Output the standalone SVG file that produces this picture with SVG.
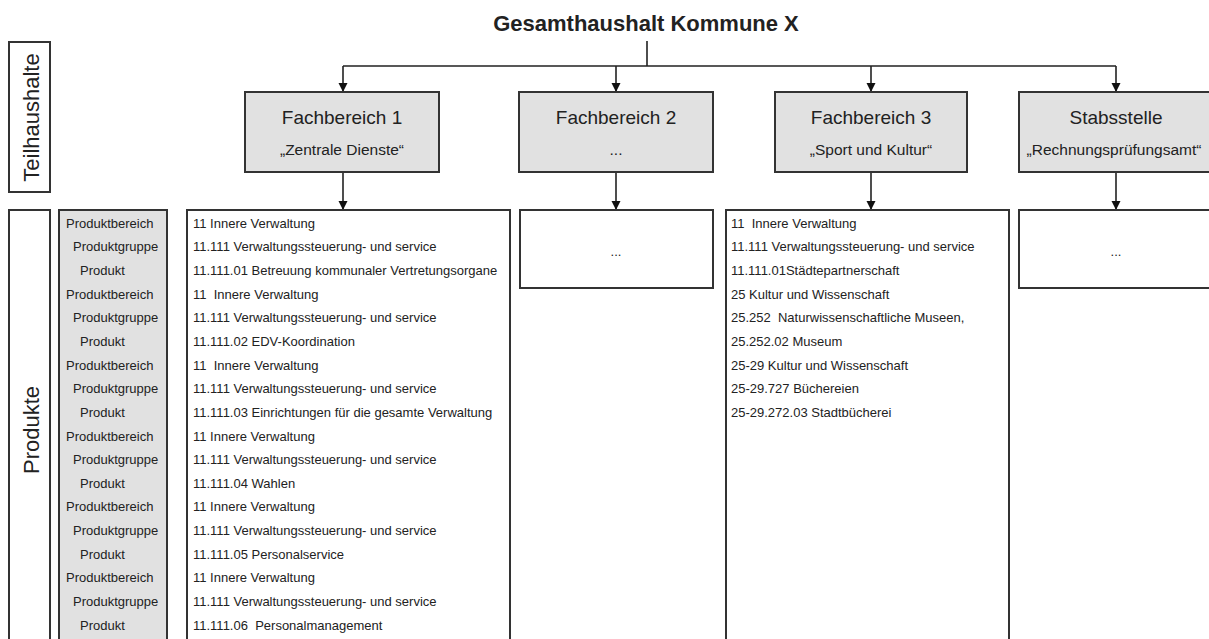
<svg xmlns="http://www.w3.org/2000/svg" width="1209" height="639" viewBox="0 0 1209 639">
<style>
.box{fill:#e1e1e1;stroke:#333;stroke-width:2}
.wbox{fill:#fff;stroke:#333;stroke-width:2}
.t{font-family:"Liberation Sans",Arial,sans-serif;fill:#222}
.title{font-size:22px;font-weight:bold;text-anchor:middle}
.h{font-size:19px;text-anchor:middle}
.s{font-size:15.5px;text-anchor:middle}
.r{font-size:13px;white-space:pre}
.side{font-size:22px;text-anchor:middle}
.con{fill:none;stroke:#222;stroke-width:1.6}
</style>
<defs>
<marker id="arr" markerUnits="userSpaceOnUse" markerWidth="10" markerHeight="10" viewBox="0 0 10 10" refX="9" refY="5" orient="auto">
<path d="M0,0.5 L9,5 L0,9.5 Z" fill="#111"/>
</marker>
</defs>
<rect width="1209" height="639" fill="#fff"/>

<g id="title"><text class="t title" x="646" y="31">Gesamthaushalt Kommune X</text></g>

<g id="connectors">
<path class="con" d="M647,41 V66 M343,66 H1116"/>
<path class="con" d="M343,66 V92" marker-end="url(#arr)"/>
<path class="con" d="M616,66 V92" marker-end="url(#arr)"/>
<path class="con" d="M871,66 V92" marker-end="url(#arr)"/>
<path class="con" d="M1116,66 V92" marker-end="url(#arr)"/>
<path class="con" d="M343,172 V210" marker-end="url(#arr)"/>
<path class="con" d="M616,172 V210" marker-end="url(#arr)"/>
<path class="con" d="M871,172 V210" marker-end="url(#arr)"/>
<path class="con" d="M1116,172 V210" marker-end="url(#arr)"/>
</g>

<g id="teilhaushalte">
<rect class="wbox" x="9" y="42" width="41" height="150"/>
<text class="t side" transform="translate(38.5,117.5) rotate(-90)">Teilhaushalte</text>
</g>

<g id="produkte">
<rect class="wbox" x="9" y="210" width="41" height="450"/>
<text class="t side" transform="translate(38.5,430) rotate(-90)">Produkte</text>
</g>

<g id="fb1">
<rect class="box" x="245" y="92" width="194" height="80"/>
<text class="t h" x="342" y="124">Fachbereich 1</text>
<text class="t s" x="342" y="155">„Zentrale Dienste“</text>
</g>
<g id="fb2">
<rect class="box" x="519" y="92" width="194" height="80"/>
<text class="t h" x="616" y="124">Fachbereich 2</text>
<text class="t s" x="616" y="155">...</text>
</g>
<g id="fb3">
<rect class="box" x="775" y="92" width="192" height="80"/>
<text class="t h" x="871" y="124">Fachbereich 3</text>
<text class="t s" x="871" y="155">„Sport und Kultur“</text>
</g>
<g id="stab">
<rect class="box" x="1019" y="92" width="196" height="80"/>
<text class="t h" x="1116" y="124">Stabsstelle</text>
<text class="t s" x="1114" y="155">„Rechnungsprüfungsamt“</text>
</g>

<g id="labels">
<rect class="box" x="59" y="210" width="108" height="450"/>
<text class="t r" x="66" y="227.7">Produktbereich</text>
<text class="t r" x="73" y="251.3">Produktgruppe</text>
<text class="t r" x="80" y="275">Produkt</text>
<text class="t r" x="66" y="298.6">Produktbereich</text>
<text class="t r" x="73" y="322.3">Produktgruppe</text>
<text class="t r" x="80" y="345.9">Produkt</text>
<text class="t r" x="66" y="369.5">Produktbereich</text>
<text class="t r" x="73" y="393.2">Produktgruppe</text>
<text class="t r" x="80" y="416.8">Produkt</text>
<text class="t r" x="66" y="440.5">Produktbereich</text>
<text class="t r" x="73" y="464.1">Produktgruppe</text>
<text class="t r" x="80" y="487.7">Produkt</text>
<text class="t r" x="66" y="511.4">Produktbereich</text>
<text class="t r" x="73" y="535">Produktgruppe</text>
<text class="t r" x="80" y="558.7">Produkt</text>
<text class="t r" x="66" y="582.3">Produktbereich</text>
<text class="t r" x="73" y="605.9">Produktgruppe</text>
<text class="t r" x="80" y="629.6">Produkt</text>
</g>

<g id="produkte-fb1">
<rect class="wbox" x="187" y="210" width="323" height="450"/>
<text class="t r" x="193" y="227.7">11 Innere Verwaltung</text>
<text class="t r" x="193" y="251.3">11.111 Verwaltungssteuerung- und service</text>
<text class="t r" x="193" y="275">11.111.01 Betreuung kommunaler Vertretungsorgane</text>
<text class="t r" x="193" y="298.6">11&#160; Innere Verwaltung</text>
<text class="t r" x="193" y="322.3">11.111 Verwaltungssteuerung- und service</text>
<text class="t r" x="193" y="345.9">11.111.02 EDV-Koordination</text>
<text class="t r" x="193" y="369.5">11&#160; Innere Verwaltung</text>
<text class="t r" x="193" y="393.2">11.111 Verwaltungssteuerung- und service</text>
<text class="t r" x="193" y="416.8">11.111.03 Einrichtungen für die gesamte Verwaltung</text>
<text class="t r" x="193" y="440.5">11 Innere Verwaltung</text>
<text class="t r" x="193" y="464.1">11.111 Verwaltungssteuerung- und service</text>
<text class="t r" x="193" y="487.7">11.111.04 Wahlen</text>
<text class="t r" x="193" y="511.4">11 Innere Verwaltung</text>
<text class="t r" x="193" y="535">11.111 Verwaltungssteuerung- und service</text>
<text class="t r" x="193" y="558.7">11.111.05 Personalservice</text>
<text class="t r" x="193" y="582.3">11 Innere Verwaltung</text>
<text class="t r" x="193" y="605.9">11.111 Verwaltungssteuerung- und service</text>
<text class="t r" x="193" y="629.6">11.111.06&#160; Personalmanagement</text>
</g>

<g id="produkte-fb2">
<rect class="wbox" x="520" y="210" width="193" height="78"/>
<text class="t r" x="616" y="256" text-anchor="middle">...</text>
</g>

<g id="produkte-fb3">
<rect class="wbox" x="726" y="210" width="283" height="450"/>
<text class="t r" x="731" y="227.7">11&#160; Innere Verwaltung</text>
<text class="t r" x="731" y="251.3">11.111 Verwaltungssteuerung- und service</text>
<text class="t r" x="731" y="275">11.111.01Städtepartnerschaft</text>
<text class="t r" x="731" y="298.6">25 Kultur und Wissenschaft</text>
<text class="t r" x="731" y="322.3">25.252&#160; Naturwissenschaftliche Museen,</text>
<text class="t r" x="731" y="345.9">25.252.02 Museum</text>
<text class="t r" x="731" y="369.5">25-29 Kultur und Wissenschaft</text>
<text class="t r" x="731" y="393.2">25-29.727 Büchereien</text>
<text class="t r" x="731" y="416.8">25-29.272.03 Stadtbücherei</text>
</g>

<g id="produkte-stab">
<rect class="wbox" x="1019" y="210" width="200" height="78"/>
<text class="t r" x="1116" y="256" text-anchor="middle">...</text>
</g>
</svg>
